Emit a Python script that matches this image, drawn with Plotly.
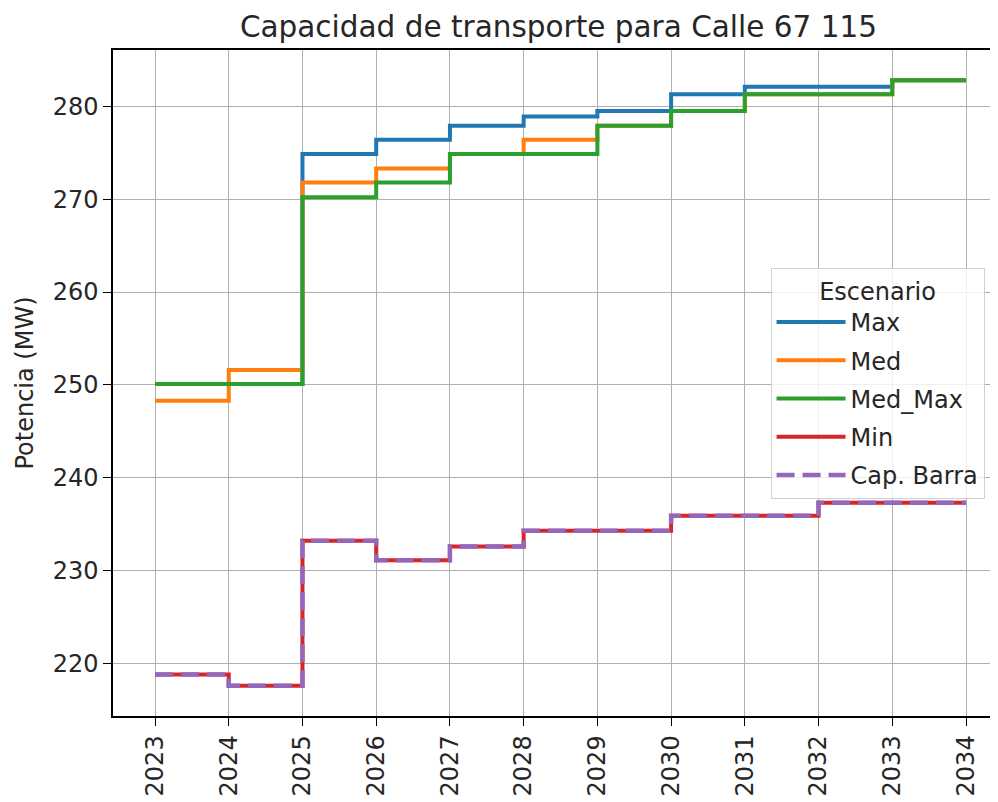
import plotly.graph_objects as go

years = list(range(2023, 2035))
year_labels = [str(y) for y in years]

max_vals = [250.1, 250.1, 274.85, 276.4, 277.9, 278.9, 279.5, 281.3, 282.1, 282.1, 282.8, 282.8]
med_vals = [248.3, 251.6, 271.8, 273.3, 274.85, 276.4, 277.9, 279.5, 281.3, 281.3, 282.8, 282.8]
med_max_vals = [250.1, 250.1, 270.2, 271.8, 274.85, 274.85, 277.9, 279.5, 281.3, 281.3, 282.8, 282.8]
min_vals = [218.8, 217.6, 233.2, 231.1, 232.6, 234.3, 234.3, 235.9, 235.9, 237.3, 237.3, 237.3]
cap_barra = [218.8, 217.6, 233.2, 231.1, 232.6, 234.3, 234.3, 235.9, 235.9, 237.3, 237.3, 237.3]

series = [
    ("Max", max_vals, "#1f77b4", None),
    ("Med", med_vals, "#ff7f0e", None),
    ("Med_Max", med_max_vals, "#2ca02c", None),
    ("Min", min_vals, "#d62728", None),
    ("Cap. Barra", cap_barra, "#9467bd", "18px,8px"),
]

fig = go.Figure()
for name, vals, color, dash in series:
    fig.add_trace(go.Scatter(
        x=years, y=vals, name=name, mode="lines", legendgroup=name,
        line=dict(color=color, width=4.5 if dash else 4, dash=dash or "solid", shape="hv"),
    ))

font = "DejaVu Sans, Liberation Sans, sans-serif"
fig.update_layout(
    width=990, height=794,
    margin=dict(l=105, r=0, t=42, b=86),
    paper_bgcolor="white", plot_bgcolor="white",
    font=dict(family=font, size=24, color="#262626"),
    title=dict(text="Capacidad de transporte para Calle 67 115", x=0.556, xanchor="center",
               y=0.976, yanchor="middle", font=dict(size=29.5, color="#262626")),
    showlegend=True,
    legend=dict(
        title=dict(text="Escenario", side="top center", font=dict(size=24)),
        x=0.743, y=0.673, xanchor="left", yanchor="top",
        bgcolor="rgba(255,255,255,0.8)", bordercolor="#d0d0d0", borderwidth=1,
        font=dict(size=24), itemwidth=69, traceorder="grouped", tracegroupgap=4,
    ),
    xaxis=dict(
        range=[2022.43, 2034.434], tickmode="array", tickvals=years, ticktext=year_labels,
        tickangle=-90, ticks="outside", ticklen=8, tickcolor="black",
        showgrid=True, gridcolor="#b0b0b0", gridwidth=1,
        showline=True, linecolor="black", linewidth=1.5, mirror=True,
        zeroline=False, tickfont=dict(size=24),
    ),
    yaxis=dict(
        range=[214.34, 286.06], tickmode="array", tickvals=[220, 230, 240, 250, 260, 270, 280],
        ticks="outside", ticklen=8, tickcolor="black",
        showgrid=True, gridcolor="#b0b0b0", gridwidth=1,
        showline=True, linecolor="black", linewidth=1.5, mirror=False,
        zeroline=False, tickfont=dict(size=24),
        title=dict(text="Potencia (MW)", font=dict(size=24), standoff=12),
    ),
)

fig.write_html("out.html")
